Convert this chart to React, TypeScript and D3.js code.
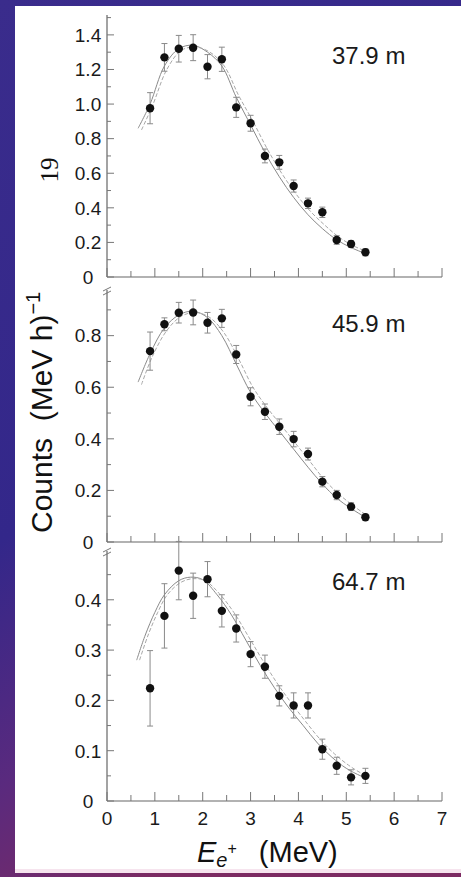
import React from "react";
import * as d3 from "d3";

// Positron energy bin centres (MeV)
const energies = [0.9, 1.2, 1.5, 1.8, 2.1, 2.4, 2.7, 3.0, 3.3, 3.6, 3.9, 4.2, 4.5, 4.8, 5.1, 5.4];

// 37.9 m
const counts379 = [0.976, 1.27, 1.32, 1.326, 1.216, 1.259, 0.981, 0.889, 0.7, 0.663, 0.526, 0.426, 0.374, 0.214, 0.191, 0.143];
const errors379 = [0.09, 0.08, 0.077, 0.075, 0.07, 0.07, 0.058, 0.046, 0.04, 0.04, 0.035, 0.03, 0.03, 0.025, 0.02, 0.02];
const fitA379: [number, number][] = [
  [0.65, 0.86], [0.9, 1.0], [1.2, 1.22], [1.5, 1.32], [1.8, 1.34], [2.1, 1.3], [2.4, 1.22],
  [2.7, 1.04], [3.0, 0.88], [3.3, 0.72], [3.6, 0.58], [3.9, 0.46], [4.2, 0.36], [4.5, 0.28],
  [4.8, 0.215], [5.1, 0.17], [5.45, 0.13],
];
const fitB379: [number, number][] = [
  [0.72, 0.85], [0.95, 0.99], [1.25, 1.2], [1.55, 1.31], [1.85, 1.33], [2.15, 1.3], [2.45, 1.22],
  [2.75, 1.05], [3.05, 0.9], [3.35, 0.74], [3.65, 0.6], [3.95, 0.48], [4.25, 0.38], [4.55, 0.3],
  [4.85, 0.23], [5.15, 0.18], [5.45, 0.145],
];

// 45.9 m
const counts459 = [0.74, 0.844, 0.889, 0.89, 0.85, 0.867, 0.727, 0.563, 0.505, 0.447, 0.399, 0.341, 0.234, 0.182, 0.137, 0.096];
const errors459 = [0.074, 0.025, 0.04, 0.048, 0.04, 0.035, 0.035, 0.035, 0.03, 0.03, 0.03, 0.023, 0.02, 0.018, 0.015, 0.012];
const fitA459: [number, number][] = [
  [0.65, 0.62], [0.9, 0.73], [1.2, 0.83], [1.5, 0.88], [1.8, 0.895], [2.1, 0.87], [2.4, 0.8],
  [2.7, 0.69], [3.0, 0.58], [3.3, 0.5], [3.6, 0.43], [3.9, 0.36], [4.2, 0.29], [4.5, 0.225],
  [4.8, 0.17], [5.1, 0.13], [5.45, 0.09],
];
const fitB459: [number, number][] = [
  [0.72, 0.61], [0.95, 0.72], [1.25, 0.82], [1.55, 0.875], [1.85, 0.89], [2.15, 0.87], [2.45, 0.81],
  [2.75, 0.71], [3.05, 0.6], [3.35, 0.52], [3.65, 0.45], [3.95, 0.38], [4.25, 0.31], [4.55, 0.24],
  [4.85, 0.185], [5.15, 0.14], [5.45, 0.1],
];

// 64.7 m
const counts647 = [0.224, 0.368, 0.458, 0.408, 0.441, 0.378, 0.343, 0.292, 0.267, 0.209, 0.19, 0.19, 0.103, 0.07, 0.047, 0.05];
const errors647 = [0.075, 0.064, 0.058, 0.045, 0.035, 0.032, 0.027, 0.025, 0.023, 0.02, 0.025, 0.025, 0.02, 0.017, 0.015, 0.015];
const fitA647: [number, number][] = [
  [0.62, 0.28], [0.8, 0.33], [1.0, 0.375], [1.2, 0.41], [1.5, 0.438], [1.75, 0.445], [2.0, 0.44],
  [2.3, 0.41], [2.6, 0.37], [2.9, 0.32], [3.2, 0.27], [3.5, 0.225], [3.8, 0.185], [4.1, 0.15],
  [4.4, 0.115], [4.7, 0.087], [5.0, 0.065], [5.3, 0.05], [5.45, 0.045],
];
const fitB647: [number, number][] = [
  [0.68, 0.28], [0.86, 0.33], [1.06, 0.375], [1.26, 0.41], [1.55, 0.435], [1.8, 0.442], [2.05, 0.438],
  [2.35, 0.412], [2.65, 0.375], [2.95, 0.328], [3.25, 0.28], [3.55, 0.235], [3.85, 0.195], [4.15, 0.158],
  [4.45, 0.123], [4.75, 0.094], [5.05, 0.071], [5.3, 0.056], [5.45, 0.05],
];

const xTickLabels = [0, 1, 2, 3, 4, 5, 6, 7];

const panels = [
  { label: "37.9 m", counts: counts379, errors: errors379, fitA: fitA379, fitB: fitB379,
    yMax: 1.515, top: 15, bottom: 277, labelStep: 0.2, minorStep: 0.1, labelY: 64,
    labels: ["0", "0.2", "0.4", "0.6", "0.8", "1.0", "1.2", "1.4"] },
  { label: "45.9 m", counts: counts459, errors: errors459, fitA: fitA459, fitB: fitB459,
    yMax: 0.977, top: 290, bottom: 542, labelStep: 0.2, minorStep: 0.1, labelY: 332,
    labels: ["0", "0.2", "0.4", "0.6", "0.8"] },
  { label: "64.7 m", counts: counts647, errors: errors647, fitA: fitA647, fitB: fitB647,
    yMax: 0.497, top: 551, bottom: 801, labelStep: 0.1, minorStep: 0.05, labelY: 590,
    labels: ["0", "0.1", "0.2", "0.3", "0.4"] },
];

const W = 461;
const H = 877;
const sans = "'Liberation Sans', Arial, Helvetica, sans-serif";

export default function App() {
  const x = d3.scaleLinear().domain([0, 7]).range([107, 442]);
  const halfTicks = d3.range(0, 7.01, 0.5);

  return (
    <svg width={W} height={H} style={{ position: "absolute", left: 0, top: 0 }}>
      <defs>
        <linearGradient id="frame" x1="0" y1="0" x2="0.35" y2="1">
          <stop offset="0" stopColor="#3a2c8c" />
          <stop offset="0.55" stopColor="#33278a" />
          <stop offset="0.8" stopColor="#5a2a7e" />
          <stop offset="1" stopColor="#7c2a62" />
        </linearGradient>
      </defs>
      <rect x={0} y={0} width={W} height={H} fill="url(#frame)" />
      <rect x={15} y={6} width={W - 15} height={867} fill="#ffffff" />
      <rect x={15} y={869} width={W - 15} height={4} fill="#f6e4ee" />

      {/* page number */}
      <text transform="translate(58,170) rotate(-90)" textAnchor="middle"
        fontFamily="'Liberation Serif', 'DejaVu Serif', serif" fontSize={25} fill="#111">19</text>

      {/* shared y-axis title */}
      <text transform="translate(52,533) rotate(-90)" fontFamily={sans} fontSize={30} fill="#111">
        Counts{"\u00a0\u00a0"}(MeV h)
        <tspan dy={-12} fontSize={20}>{"\u22121"}</tspan>
      </text>

      {panels.map((p, pi) => {
        const y = d3.scaleLinear().domain([0, p.yMax]).range([p.bottom, p.top]);
        const line = d3.line<[number, number]>()
          .x((d) => x(d[0]))
          .y((d) => y(d[1]))
          .curve(d3.curveCatmullRom);
        const minor = d3.range(0, p.yMax + 1e-9, p.minorStep);
        return (
          <g key={pi}>
            {/* axes */}
            <line x1={x(0)} x2={x(0)} y1={y(0)} y2={p.top} stroke="#666" strokeWidth={1.2} />
            <line x1={x(0)} x2={x(7)} y1={y(0)} y2={y(0)} stroke="#666" strokeWidth={1.2} />
            {/* axis break marks */}
            {pi > 0 && (
              <g stroke="#777" strokeWidth={1}>
                <line x1={x(0) - 4} x2={x(0) + 4} y1={p.top + 1} y2={p.top - 3} />
                <line x1={x(0) - 4} x2={x(0) + 4} y1={p.top + 5} y2={p.top + 1} />
              </g>
            )}
            {minor.map((v, i) => {
              const isMajor = Math.abs(v / p.labelStep - Math.round(v / p.labelStep)) < 1e-6;
              return (
                <line key={i} x1={x(0)} x2={x(0) + (isMajor ? 7 : 4)} y1={y(v)} y2={y(v)}
                  stroke="#777" strokeWidth={1} />
              );
            })}
            {halfTicks.map((v, i) => (
              <line key={i} x1={x(v)} x2={x(v)} y1={y(0)} y2={y(0) - (Number.isInteger(v) ? 9 : 6)}
                stroke="#777" strokeWidth={1} />
            ))}
            {p.labels.map((t, i) => (
              <text key={t} x={88} y={y(i * p.labelStep)} dy="0.36em" textAnchor="middle"
                fontFamily={sans} fontSize={19} fill="#1a1a1a">{t}</text>
            ))}

            {/* fitted spectra */}
            <path d={line(p.fitA) ?? ""} fill="none" stroke="#8a8a8a" strokeWidth={1} />
            <path d={line(p.fitB) ?? ""} fill="none" stroke="#a8a8a8" strokeWidth={1} strokeDasharray="4 2" />

            {/* data with error bars */}
            {energies.map((e, i) => {
              const cx = x(e);
              const v = p.counts[i];
              const er = p.errors[i];
              return (
                <g key={i}>
                  <line x1={cx} x2={cx} y1={y(v - er)} y2={y(v + er)} stroke="#8a8a8a" strokeWidth={1} />
                  <line x1={cx - 3} x2={cx + 3} y1={y(v + er)} y2={y(v + er)} stroke="#8a8a8a" strokeWidth={1} />
                  <line x1={cx - 3} x2={cx + 3} y1={y(v - er)} y2={y(v - er)} stroke="#8a8a8a" strokeWidth={1} />
                  <circle cx={cx} cy={y(v)} r={4.2} fill="#111" />
                </g>
              );
            })}

            <text x={332} y={p.labelY} fontFamily={sans} fontSize={24} fill="#1a1a1a">{p.label}</text>
          </g>
        );
      })}

      {/* x-axis tick labels on the bottom panel */}
      {xTickLabels.map((v) => (
        <text key={v} x={x(v)} y={825} textAnchor="middle" fontFamily={sans} fontSize={19} fill="#1a1a1a">
          {v}
        </text>
      ))}

      {/* x-axis title */}
      <text x={197} y={862} fontFamily={sans} fontSize={29} fill="#111">
        <tspan fontStyle="italic">E</tspan>
        <tspan fontStyle="italic" fontSize={20} dy={5}>e</tspan>
        <tspan fontSize={16} dy={-13}>+</tspan>
        <tspan fontSize={29} dy={8} dx={22}>(MeV)</tspan>
      </text>
    </svg>
  );
}
